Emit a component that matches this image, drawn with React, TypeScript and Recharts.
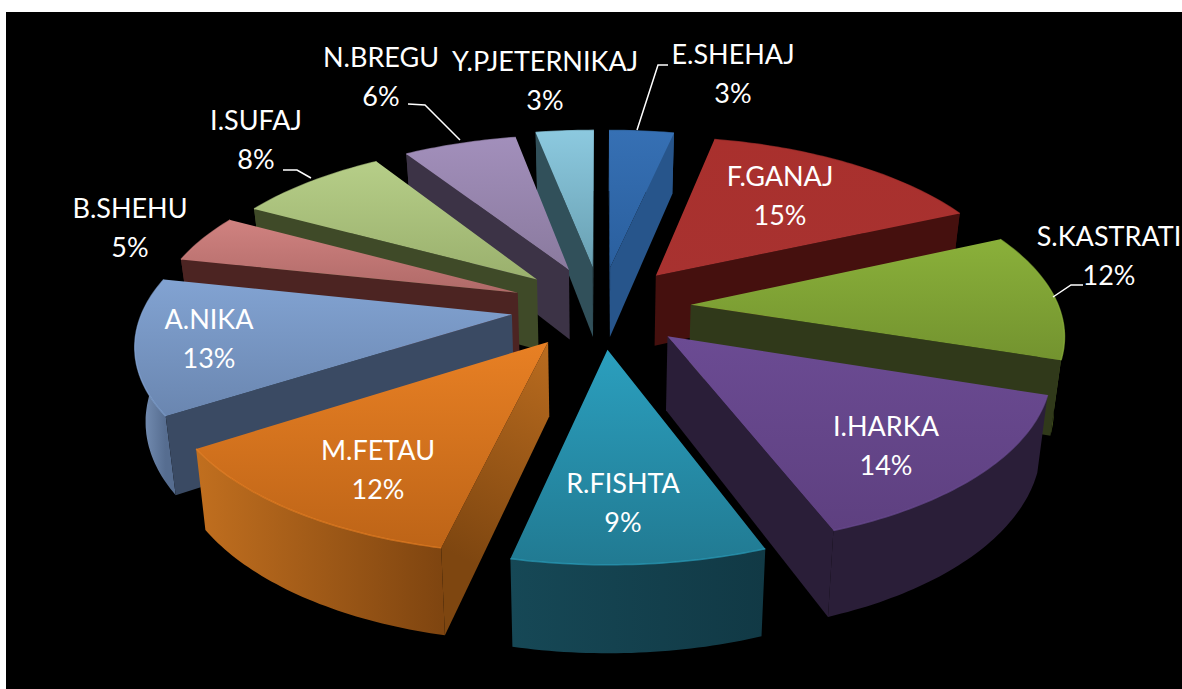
import { PieChart, Pie } from 'recharts';

const names = ['E.SHEHAJ', 'F.GANAJ', 'S.KASTRATI', 'I.HARKA', 'R.FISHTA', 'M.FETAU', 'A.NIKA', 'B.SHEHU', 'I.SUFAJ', 'N.BREGU', 'Y.PJETERNIKAJ'];
const values = [3.35, 14.85, 11.9, 14.2, 9.2, 12.3, 12.6, 4.6, 8, 6, 3];

const pieData = names.map((name, i) => ({ name, value: values[i] }));
const rightNames = ['E.SHEHAJ', 'F.GANAJ', 'S.KASTRATI', 'I.HARKA'];

// top light, top dark, cut wall near apex, cut wall at rim, rim left, rim right
const palette: Record<string, string[]> = {
  'E.SHEHAJ': ['#3670B4', '#2A5F9E', '#27558B', '#27558B', '#27558B', '#27558B'],
  'F.GANAJ': ['#A9302D', '#A83230', '#45100E', '#45100E', '#45100E', '#45100E'],
  'S.KASTRATI': ['#8AB03A', '#73932F', '#30391A', '#30391A', '#4C5F20', '#4C5F20'],
  'I.HARKA': ['#6B4B93', '#5E4080', '#2A1E38', '#2A1E38', '#2A1E38', '#2A1E38'],
  'R.FISHTA': ['#2B9FBE', '#217A92', '#123F4E', '#123F4E', '#164856', '#113945'],
  'M.FETAU': ['#E88024', '#BD6417', '#BA6C1F', '#7E4610', '#C16F1F', '#7F4510'],
  'A.NIKA': ['#82A3D2', '#6A86B0', '#3A4A63', '#3A4A63', '#7F99BF', '#566D90'],
  'B.SHEHU': ['#D08280', '#B06A68', '#4C2422', '#4C2422', '#4C2422', '#4C2422'],
  'I.SUFAJ': ['#B6CE88', '#9AB06D', '#3F4A28', '#3F4A28', '#3F4A28', '#3F4A28'],
  'N.BREGU': ['#A28FBB', '#8A7A9E', '#3C3346', '#3C3346', '#3C3346', '#3C3346'],
  'Y.PJETERNIKAJ': ['#8CC9DF', '#69A0B2', '#31505A', '#31505A', '#31505A', '#31505A'],
};

// the rear left slices sit a little tighter than the projection gives
const radiusTrim: Record<string, number> = { 'B.SHEHU': 0.985, 'I.SUFAJ': 0.975, 'N.BREGU': 0.975 };

// where each label sits, and the leader line if it has one
const labelSpots: Record<string, [number, number]> = {
  'E.SHEHAJ': [733, 64],
  'F.GANAJ': [780, 186],
  'S.KASTRATI': [1109, 246],
  'I.HARKA': [886, 436],
  'R.FISHTA': [623, 493],
  'M.FETAU': [378, 460],
  'A.NIKA': [209, 329],
  'B.SHEHU': [130, 218],
  'I.SUFAJ': [256, 130],
  'N.BREGU': [381, 67],
  'Y.PJETERNIKAJ': [545, 71],
};
const leaders: Record<string, string> = {
  'E.SHEHAJ': '637,130 658,65 668,65',
  'S.KASTRATI': '1053,297 1071,285 1083,285',
  'I.SUFAJ': '283,170 297,170 311,178',
  'N.BREGU': '408,104 425,105 460,140',
};

const EXPLODE = 90;
const THICK = 72;
const PERSP = 0.15;
const TILT = 0.458;
const SHRINK = 0.00032;

const toPath = (pts: number[][]) => 'M' + pts.map((p) => `${p[0].toFixed(1)},${p[1].toFixed(1)}`).join('L') + 'Z';

function area(pts: number[][]) {
  let a = 0;
  pts.forEach((p, i) => {
    const q = pts[(i + 1) % pts.length];
    a += p[0] * q[1] - q[0] * p[1];
  });
  return a;
}

function Wedge3D(props: any) {
  const { cx, cy, outerRadius: R, startAngle, endAngle, name, half } = props;
  const isRight = rightNames.includes(name);
  if (isRight !== (half === 'right')) return null;
  const colors = palette[name];
  const hi = Math.max(startAngle, endAngle);
  const lo = Math.min(startAngle, endAngle);
  const mid = ((hi + lo) / 2) * (Math.PI / 180);
  const ox = EXPLODE * Math.cos(mid);
  const oz = EXPLODE * Math.sin(mid);

  const project = (deg: number, r: number, d: number) => {
    const a = (deg * Math.PI) / 180;
    const X = ox + r * Math.cos(a);
    const Z = oz + r * Math.sin(a);
    const s = 1 / (1 + (PERSP * Z) / R);
    return [cx + X * s * (1 - d * SHRINK), cy - Z * TILT * s + d * s];
  };

  const rimR = R * (radiusTrim[name] ?? 1);
  const arc: number[] = [];
  const steps = Math.max(4, Math.ceil(hi - lo));
  for (let i = 0; i <= steps; i++) arc.push(hi - ((hi - lo) * i) / steps);
  const rimTop = arc.map((a) => project(a, rimR, 0));
  const rimBottom = arc.map((a) => project(a, rimR, THICK));
  const apexTop = project(0, 0, 0);
  const apexBottom = project(0, 0, THICK);

  const startCut = [apexTop, rimTop[0], rimBottom[0], apexBottom];
  const endCut = [apexTop, rimTop[steps], rimBottom[steps], apexBottom];
  const showStart = area(startCut) < 0;
  const showEnd = area(endCut) > 0;
  const cutEnd = showStart ? rimTop[0] : rimTop[steps];
  const key = name.replace('.', '');
  const xs = rimTop.map((p) => p[0]);

  return (
    <g>
      <defs>
        <linearGradient id={`top-${key}`} x1="0" y1="0" x2="0" y2="1">
          <stop offset="0%" stopColor={colors[0]} />
          <stop offset="100%" stopColor={colors[1]} />
        </linearGradient>
        <linearGradient id={`cut-${key}`} gradientUnits="userSpaceOnUse" x1={apexTop[0]} y1={apexTop[1]} x2={cutEnd[0]} y2={cutEnd[1]}>
          <stop offset="0%" stopColor={colors[2]} />
          <stop offset="100%" stopColor={colors[3]} />
        </linearGradient>
        <linearGradient id={`rim-${key}`} gradientUnits="userSpaceOnUse" x1={Math.min(...xs)} y1="0" x2={Math.max(...xs)} y2="0">
          <stop offset="0%" stopColor={colors[4]} />
          <stop offset="100%" stopColor={colors[5]} />
        </linearGradient>
      </defs>
      <path d={toPath([...rimTop, ...[...rimBottom].reverse()])} fill={`url(#rim-${key})`} />
      {showStart && <path d={toPath(startCut)} fill={`url(#cut-${key})`} />}
      {showEnd && <path d={toPath(endCut)} fill={`url(#cut-${key})`} />}
      <path d={toPath([apexTop, ...rimTop])} fill={`url(#top-${key})`} />
      <polyline points={rimTop.map((p) => p.join(',')).join(' ')} fill="none" stroke={colors[0]} strokeWidth={1.5} strokeOpacity={0.7} />
    </g>
  );
}

function SliceLabel(props: any) {
  const { name, percent, half } = props;
  if (rightNames.includes(name) !== (half === 'right')) return null;
  const [x, y] = labelSpots[name];
  return (
    <g>
      {leaders[name] && <polyline points={leaders[name]} fill="none" stroke="#FFFFFF" strokeWidth={1.5} />}
      <text x={x} y={y} textAnchor="middle" fill="#FFFFFF" fontFamily="Lato, sans-serif" fontSize={27}>
        <tspan x={x}>{name}</tspan>
        <tspan x={x} dy={39}>{`${Math.round(percent * 100)}%`}</tspan>
      </text>
    </g>
  );
}

export default function App() {
  return (
    <div style={{ position: 'fixed', left: 0, top: 0, width: 1182, height: 689, background: '#FFFFFF', overflow: 'hidden' }}>
      <div style={{ position: 'absolute', left: 6, top: 12, right: 0, bottom: 0, background: '#000000' }} />
      <div style={{ position: 'absolute', left: 0, top: 0 }}>
        <PieChart width={1182} height={689} margin={{ top: 0, right: 0, bottom: 0, left: 0 }}>
          {/* two passes so the rear slices are painted before the front ones */}
          <Pie
            data={pieData}
            dataKey="value"
            nameKey="name"
            cx={601}
            cy={307}
            innerRadius={0}
            outerRadius={368}
            startAngle={90}
            endAngle={-270}
            stroke="none"
            isAnimationActive={false}
            labelLine={false}
            shape={(p: any) => <Wedge3D {...p} half="right" />}
            label={(p: any) => <SliceLabel {...p} half="right" />}
          />
          <Pie
            data={[...pieData].reverse()}
            dataKey="value"
            nameKey="name"
            cx={601}
            cy={307}
            innerRadius={0}
            outerRadius={368}
            startAngle={90}
            endAngle={450}
            stroke="none"
            isAnimationActive={false}
            labelLine={false}
            shape={(p: any) => <Wedge3D {...p} half="left" />}
            label={(p: any) => <SliceLabel {...p} half="left" />}
          />
        </PieChart>
      </div>
    </div>
  );
}
